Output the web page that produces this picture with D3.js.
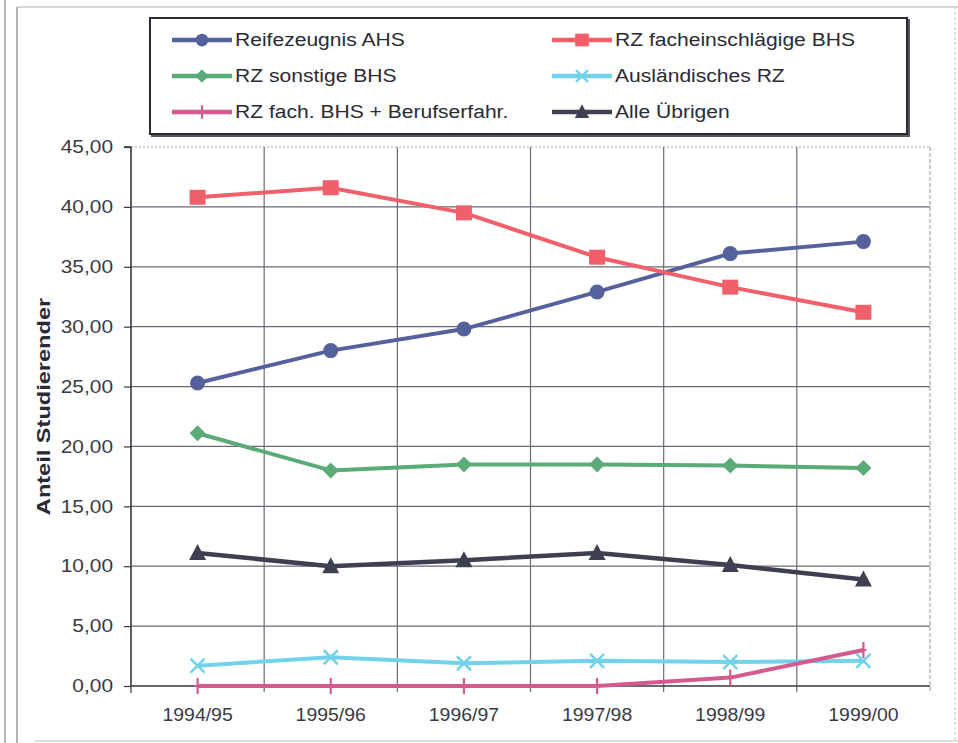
<!DOCTYPE html>
<html><head><meta charset="utf-8">
<script src="https://cdn.jsdelivr.net/npm/d3@7"></script>
<style>body{margin:0;background:#fff;} svg{display:block;font-family:"Liberation Sans",Arial,sans-serif;}</style>
</head><body>
<svg id="c" width="958" height="743"></svg>
<script>
const categories = ["1994/95","1995/96","1996/97","1997/98","1998/99","1999/00"];
const seriesNames = ["Reifezeugnis AHS","RZ facheinschlägige BHS","RZ sonstige BHS","Ausländisches RZ","RZ fach. BHS + Berufserfahr.","Alle Übrigen"];
const ahs      = [25.3, 28.0, 29.8, 32.9, 36.1, 37.1];
const fachBhs  = [40.8, 41.6, 39.5, 35.8, 33.3, 31.2];
const sonstBhs = [21.1, 18.0, 18.5, 18.5, 18.4, 18.2];
const ausl     = [1.7, 2.4, 1.9, 2.1, 2.0, 2.1];
const fachBeruf= [0.0, 0.0, 0.0, 0.0, 0.7, 3.0];
const uebrige  = [11.1, 10.0, 10.5, 11.1, 10.1, 8.9];
const yTicks = [0,5,10,15,20,25,30,35,40,45];

const colors = ["#55619c","#f0606a","#5aab78","#72d2ea","#d45a90","#3e4052"];
const markers = ["circle","square","diamond","x","plus","triangle"];
const values = [ahs, fachBhs, sonstBhs, ausl, fachBeruf, uebrige];

const svg = d3.select("#c");
const L=131, R=930, T=147, B=686;
const x = d3.scaleBand().domain(categories).range([L,R]).padding(0);
const y = d3.scaleLinear().domain([0,45]).range([B,T]);
const fmt = v => d3.format(".2f")(v).replace(".", ",");

// widen text horizontally (reference glyphs are stretched)
function stretch(sel, f){
  sel.each(function(){
    const w = this.getComputedTextLength();
    d3.select(this).attr("textLength", w*f).attr("lengthAdjust","spacingAndGlyphs");
  });
}

// outer frame
const frame = svg.append("g").attr("fill","none").attr("stroke","#8a8090");
frame.append("line").attr("x1",5).attr("x2",5).attr("y1",0).attr("y2",743).attr("stroke-width",1.2);
frame.append("line").attr("x1",17).attr("x2",17).attr("y1",7).attr("y2",743).attr("stroke-width",1.2);
frame.append("line").attr("x1",17).attr("x2",958).attr("y1",7).attr("y2",7).attr("stroke","#b0a8b4");
frame.append("line").attr("x1",35).attr("x2",958).attr("y1",741).attr("y2",741).attr("stroke","#c0bac4");
frame.append("line").attr("x1",955).attr("x2",955).attr("y1",7).attr("y2",741).attr("stroke","#c8c2cc").attr("stroke-dasharray","3,2");

// horizontal gridlines
svg.append("g").selectAll("line").data(yTicks.filter(d=>d>0 && d<45)).join("line")
  .attr("x1",L).attr("x2",R).attr("y1",d=>y(d)).attr("y2",d=>y(d))
  .attr("stroke","#6e6676").attr("stroke-width",1.2);
svg.append("line").attr("x1",L).attr("x2",R).attr("y1",y(45)).attr("y2",y(45))
  .attr("stroke","#a8a0b0").attr("stroke-dasharray","2,2");
const bounds = categories.slice(1).map(c=>x(c));
svg.append("g").selectAll("line").data(bounds).join("line")
  .attr("x1",d=>d).attr("x2",d=>d).attr("y1",T).attr("y2",B+6)
  .attr("stroke","#6e6676").attr("stroke-width",1.2);
svg.append("line").attr("x1",R).attr("x2",R).attr("y1",T).attr("y2",B+6)
  .attr("stroke","#9890a0").attr("stroke-dasharray","4,2");

// y axis
const yAxis = d3.axisLeft(y).tickValues(yTicks).tickFormat(fmt).tickSize(7).tickPadding(11);
const gy = svg.append("g").attr("transform",`translate(${L},0)`).call(yAxis);
gy.select(".domain").attr("stroke","#3a3440").attr("stroke-width",1.6).attr("d",`M-7,${T}H0V${B}`);
gy.selectAll(".tick line").attr("stroke","#3a3440").attr("stroke-width",1.2);
gy.selectAll(".tick text").attr("font-size",18).attr("fill","#3a3a44").attr("font-family","Liberation Sans, Arial, sans-serif");
stretch(gy.selectAll(".tick text"), 1.16);

// x axis
const xAxis = d3.axisBottom(x).tickSize(0).tickPadding(22);
const gx = svg.append("g").attr("transform",`translate(0,${B})`).call(xAxis);
gx.select(".domain").attr("stroke","#3a3440").attr("stroke-width",1.6).attr("d",`M${L},0H${R}`);
gx.selectAll(".tick text").attr("font-size",18).attr("fill","#3a3a44").attr("font-family","Liberation Sans, Arial, sans-serif");
stretch(gx.selectAll(".tick text"), 1.08);
svg.append("line").attr("x1",L).attr("x2",L).attr("y1",B).attr("y2",B+7).attr("stroke","#3a3440").attr("stroke-width",1.2);

// axis title
const title = svg.append("text").attr("transform",`translate(50,${(T+B)/2-10}) rotate(-90)`)
  .attr("text-anchor","middle").attr("font-size",19).attr("font-weight","bold").attr("fill","#2a2a34")
  .text("Anteil Studierender");
stretch(title, 1.24);

function drawMarker(g, type, cx, cy, color, s){
  if(type==="circle") g.append("circle").attr("cx",cx).attr("cy",cy).attr("r",7.5*s).attr("fill",color);
  else if(type==="square") g.append("rect").attr("x",cx-8*s).attr("y",cy-7.5*s).attr("width",16*s).attr("height",15*s).attr("fill",color);
  else if(type==="diamond") g.append("path").attr("d",`M${cx},${cy-8*s}L${cx+8*s},${cy}L${cx},${cy+8*s}L${cx-8*s},${cy}Z`).attr("fill",color);
  else if(type==="x") g.append("path").attr("d",`M${cx-7*s},${cy-7*s}L${cx+7*s},${cy+7*s}M${cx-7*s},${cy+7*s}L${cx+7*s},${cy-7*s}`).attr("stroke",color).attr("stroke-width",2.5);
  else if(type==="plus") g.append("path").attr("d",`M${cx},${cy-8*s}V${cy+8*s}M${cx-3},${cy}H${cx+3}`).attr("stroke",color).attr("stroke-width",2.2);
  else if(type==="triangle") g.append("path").attr("d",`M${cx},${cy-9*s}L${cx+8.5*s},${cy+7*s}L${cx-8.5*s},${cy+7*s}Z`).attr("fill",color);
}

const line = d3.line().x((d,i)=>x(categories[i])+x.bandwidth()/2).y(d=>y(d));
values.forEach((vals,si)=>{
  const g = svg.append("g");
  g.append("path").datum(vals).attr("d",line).attr("fill","none")
    .attr("stroke",colors[si]).attr("stroke-width",si===5?4.5:4).attr("stroke-linejoin","round");
  vals.forEach((v,i)=>drawMarker(g, markers[si], x(categories[i])+x.bandwidth()/2, y(v), colors[si], 1));
});

// legend
const lg = svg.append("g");
lg.append("rect").attr("x",152).attr("y",20).attr("width",757).attr("height",116).attr("fill","#fff").attr("stroke","#5a5464").attr("stroke-width",2);
lg.append("rect").attr("x",150).attr("y",18).attr("width",757).attr("height",116).attr("fill","#fff").attr("stroke","#2a2a34").attr("stroke-width",2);
const colX = [172, 552], rowY = [40, 76, 112];
seriesNames.forEach((name,i)=>{
  const cx = colX[i%2], cy = rowY[Math.floor(i/2)];
  lg.append("line").attr("x1",cx).attr("x2",cx+60).attr("y1",cy).attr("y2",cy).attr("stroke",colors[i]).attr("stroke-width",4.5);
  drawMarker(lg, markers[i], cx+30, cy, colors[i], 0.85);
  const t = lg.append("text").attr("x",cx+63).attr("y",cy+6).attr("font-size",18).attr("fill","#2a2a34").text(name);
  stretch(t, 1.17);
});
</script>
</body></html>
